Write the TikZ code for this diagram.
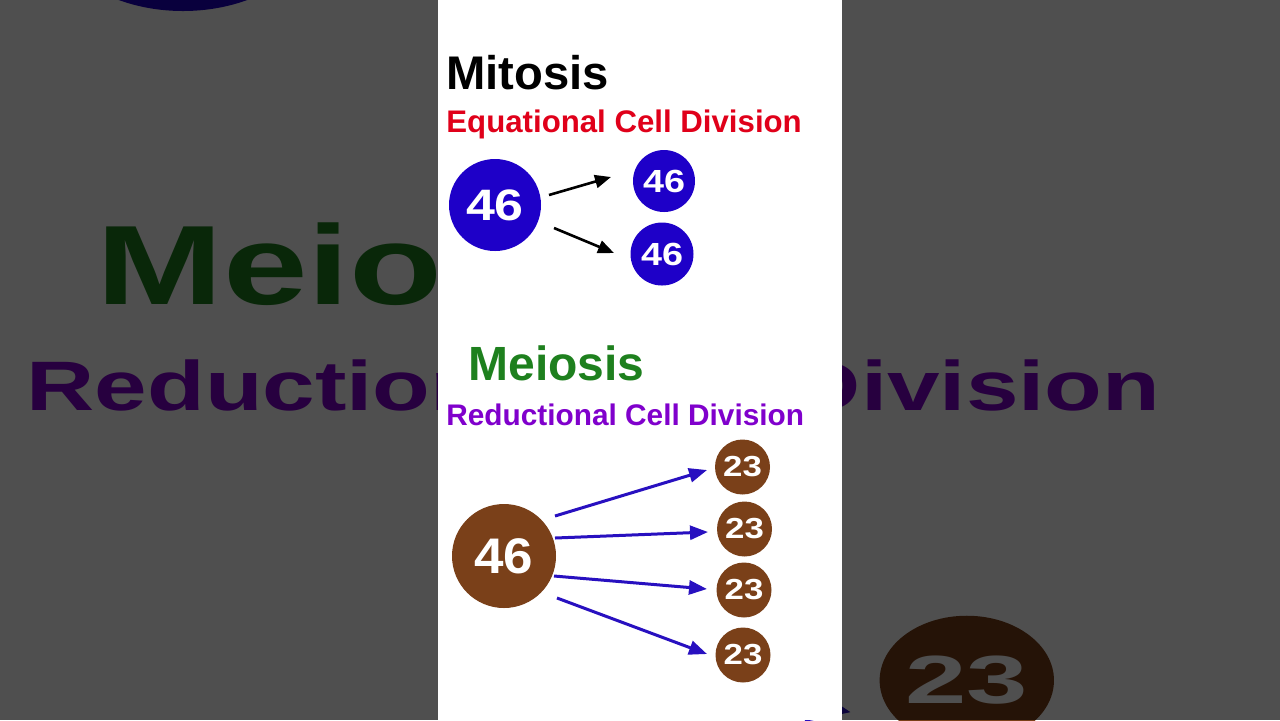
\documentclass[tikz,border=0pt]{standalone}
\usepackage{fontspec}
\setmainfont{Liberation Sans}
\usetikzlibrary{arrows.meta,calc}
\definecolor{cblue}{RGB}{30,0,200}
\definecolor{cred}{RGB}{224,0,26}
\definecolor{cgreen}{RGB}{30,128,30}
\definecolor{cpurple}{RGB}{128,0,204}
\definecolor{cbrown}{RGB}{122,64,25}
\definecolor{carrow}{RGB}{40,16,192}
\tikzset{
  title/.style={anchor=base west, inner sep=0pt},
  cell/.style={circle, inner sep=0pt, text=white, font=\bfseries},
  blackarr/.style={line width=1.3pt, black, -{Triangle[length=8pt,width=6.5pt]}},
  bluearr/.style={line width=1.5pt, carrow, -{Triangle[length=9pt,width=7pt]}},
  bgarr/.style={line width=4pt, carrow, -{Triangle[length=22pt,width=17pt]}},
}
\newcommand{\wide}[2]{\scalebox{#1}[1]{#2}}
\begin{document}
\begin{tikzpicture}[x=0.5pt, y=-0.5pt]
  \useasboundingbox (0,0) rectangle (1280,720);
  % enlarged, darkened background copy
  \begin{scope}
    \clip (0,0) rectangle (1280,720);
    \fill[white] (0,0) rectangle (1280,720);
    \fill[cblue] (183,-97) ellipse [x radius=146, y radius=108];
    \begin{scope}[shift={(-1388.5,-586.3)}, xscale=3.17, yscale=2.35, transform shape]
      \node[title, text=cgreen, font={\fontsize{24pt}{28pt}\selectfont\bfseries}] (bgmei) at (468,379) {Meiosis};
      \node[title, text=cpurple, font={\fontsize{14.9pt}{18pt}\selectfont\bfseries}] (bgred) at (446,424) {Reductional Cell Division};
      \node[cell, fill=cbrown, minimum size=27.5pt, font={\fontsize{14.5pt}{16pt}\selectfont\bfseries}] (bg23) at (743,539) {\wide{1.2}{23}};
      \draw[bgarr] ($(bg23)+(-120,-8)-(0,0)$) -- ($(bg23)+(-36.5,13.5)-(0,0)$);
    \end{scope}
    \fill[black, opacity=0.69] (0,0) rectangle (1280,720);
  \end{scope}
  % white central panel
  \fill[white] (438,0) rectangle (842,720);
  % Mitosis
  \node[title, font={\fontsize{23.6pt}{27pt}\selectfont\bfseries}] (mit) at (446,89) {Mitosis};
  \node[title, text=cred, font={\fontsize{15.6pt}{18pt}\selectfont\bfseries}] (eq) at (446,132) {Equational Cell Division};
  \node[cell, fill=cblue, minimum size=46pt, font={\fontsize{22pt}{24pt}\selectfont\bfseries}] (mbig) at (495,205) {\wide{1.18}{46}};
  \node[cell, fill=cblue, minimum size=31pt, font={\fontsize{16pt}{18pt}\selectfont\bfseries}] (ms1) at (664,181) {\wide{1.18}{46}};
  \node[cell, fill=cblue, minimum size=31.5pt, font={\fontsize{16pt}{18pt}\selectfont\bfseries}] (ms2) at (662,254) {\wide{1.18}{46}};
  \draw[blackarr] ($(mbig)+(54,-10)$) -- ($(ms1)+(-53,-4)$);
  \draw[blackarr] ($(mbig)+(59,23)$) -- ($(ms2)+(-48,-1)$);
  % Meiosis
  \node[title, text=cgreen, font={\fontsize{24pt}{28pt}\selectfont\bfseries}] (mei) at (468,380) {Meiosis};
  \node[title, text=cpurple, font={\fontsize{14.9pt}{18pt}\selectfont\bfseries}] (red) at (446,425) {Reductional Cell Division};
  \node[cell, fill=cbrown, minimum size=52pt, font={\fontsize{25pt}{28pt}\selectfont\bfseries}] (bbig) at (504,556) {\wide{1.06}{46}};
  \node[cell, fill=cbrown, minimum size=27.5pt, font={\fontsize{14.5pt}{16pt}\selectfont\bfseries}] (c1) at (742.5,467) {\wide{1.2}{23}};
  \node[cell, fill=cbrown, minimum size=27.5pt, font={\fontsize{14.5pt}{16pt}\selectfont\bfseries}] (c2) at (744.5,529) {\wide{1.2}{23}};
  \node[cell, fill=cbrown, minimum size=27.5pt, font={\fontsize{14.5pt}{16pt}\selectfont\bfseries}] (c3) at (744,590) {\wide{1.2}{23}};
  \node[cell, fill=cbrown, minimum size=27.5pt, font={\fontsize{14.5pt}{16pt}\selectfont\bfseries}] (c4) at (743,655) {\wide{1.2}{23}};
  \draw[bluearr] ($(bbig)+(51,-40)$) -- ($(c1)+(-35.5,3)$);
  \draw[bluearr] ($(bbig)+(51,-18)$) -- ($(c2)+(-36.5,3)$);
  \draw[bluearr] ($(bbig)+(50,20)$) -- ($(c3)+(-37,-1)$);
  \draw[bluearr] ($(bbig)+(53,42)$) -- ($(c4)+(-36,-1)$);
\end{tikzpicture}
\end{document}
